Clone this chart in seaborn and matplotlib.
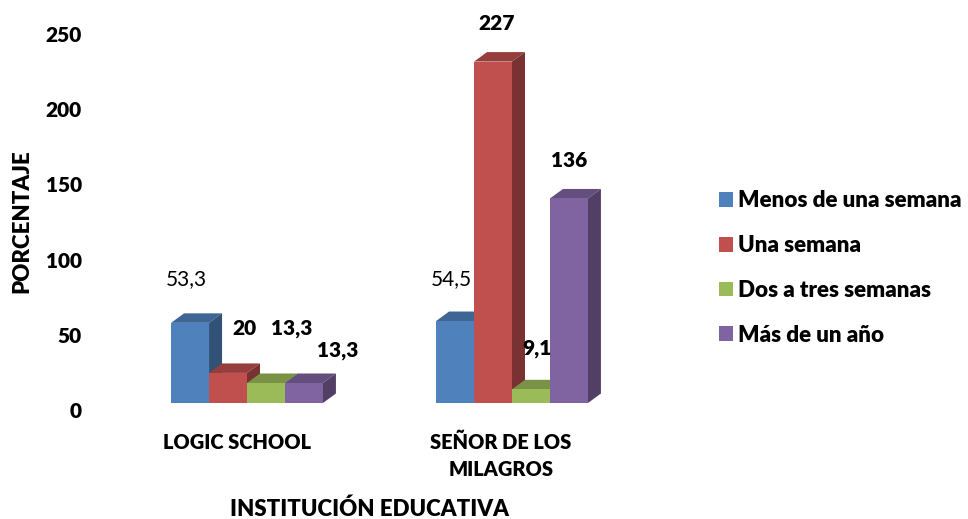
import pandas as pd
import seaborn as sns
from matplotlib import pyplot
from matplotlib.colors import to_rgb
from matplotlib.patches import Polygon
from matplotlib.transforms import ScaledTranslation

# data
institutions = ["LOGIC SCHOOL", "SEÑOR DE LOS\nMILAGROS"]
periods = ["Menos de una semana", "Una semana", "Dos a tres semanas", "Más de un año"]
menos_semana = [53.3, 54.5]
una_semana = [20, 227]
dos_tres_semanas = [13.3, 9.1]
mas_un_anio = [13.3, 136]
y_ticks = [0, 50, 100, 150, 200, 250]
colors = ["#4F81BD", "#C0504D", "#9BBB59", "#8064A2"]

# label offsets from the top centre of each bar, in pixels (one row per period)
label_offsets = [[(-4, 44), (-4, 42)], [(16, 44), (4, 38)], [(26, 54), (6, 41)], [(34, 32), (0, 38)]]

W, H, DPI = 968, 519, 100
AX_LEFT, AX_RIGHT, AX_TOP, AX_BOTTOM = 114.5, 644.5, 27, 403
DEPTH_X, DEPTH_Y = 13, 9.5
FONT = 15
LEG_FONT = 16.15
HEAVY = "heavy"

sns.set_theme(style="white")
pyplot.rcParams["font.family"] = ["Lato", "DejaVu Sans"]

rows = []
for period, values in zip(periods, [menos_semana, una_semana, dos_tres_semanas, mas_un_anio]):
    for inst, v in zip(institutions, values):
        rows.append({"institucion": inst, "periodo": period, "valor": v})
df = pd.DataFrame(rows)

fig = pyplot.figure(figsize=(W / DPI, H / DPI), dpi=DPI)
ax = fig.add_axes([AX_LEFT / W, 1 - AX_BOTTOM / H, (AX_RIGHT - AX_LEFT) / W, (AX_BOTTOM - AX_TOP) / H])

sns.barplot(data=df, x="institucion", y="valor", hue="periodo", hue_order=periods, order=institutions,
            palette=colors, saturation=1, width=0.573, gap=0, errorbar=None, linewidth=0, ax=ax)
ax.set_xlim(-0.5, 1.5)
ax.set_ylim(0, 250)

dx = DEPTH_X / (AX_RIGHT - AX_LEFT) * 2
dy = DEPTH_Y / (AX_BOTTOM - AX_TOP) * 250


def shade(color, k):
    return tuple(c * k for c in to_rgb(color))


# fake the 3d look, left to right so each bar hides the side of the one before
for i, container in enumerate(ax.containers):
    for j, bar in enumerate(container):
        z = 2 + i
        x0, x1, h = bar.get_x(), bar.get_x() + bar.get_width(), bar.get_height()
        bar.set_zorder(z + 0.5)
        bar.set_clip_on(False)
        ax.add_patch(Polygon([(x0, h), (x1, h), (x1 + dx, h + dy), (x0 + dx, h + dy)], closed=True,
                             fc=shade(colors[i], 0.78), ec="none", zorder=z, clip_on=False))
        ax.add_patch(Polygon([(x1, 0), (x1 + dx, dy), (x1 + dx, h + dy), (x1, h)], closed=True,
                             fc=shade(colors[i], 0.63), ec="none", zorder=z, clip_on=False))
        off = label_offsets[i][j]
        ax.annotate(f"{h:g}".replace(".", ","), xy=((x0 + x1) / 2, h),
                    xytext=(off[0] * 72 / DPI, off[1] * 72 / DPI), textcoords="offset points",
                    ha="center", va="center", fontsize=FONT, color="black",
                    fontweight="normal" if i == 0 else HEAVY, zorder=20, annotation_clip=False)

ax.set_yticks(y_ticks)
ax.set_yticklabels(y_ticks, fontsize=FONT, fontweight=HEAVY, color="black")
ax.tick_params(axis="y", length=0, pad=32.5 * 72 / DPI)
ax.tick_params(axis="x", length=0, pad=30 * 72 / DPI)
for lab in ax.get_yticklabels():
    lab.set_transform(lab.get_transform() + ScaledTranslation(0, -7 / DPI, fig.dpi_scale_trans))
ax.set_xticks([0, 1])
ax.set_xticklabels(institutions, fontsize=14.4, fontweight=HEAVY, color="black", linespacing=1.45)
for lab, shift in zip(ax.get_xticklabels(), [-10, -11]):
    lab.set_transform(lab.get_transform() + ScaledTranslation(shift / DPI, 0, fig.dpi_scale_trans))

ax.set_xlabel("INSTITUCIÓN EDUCATIVA", fontsize=16, fontweight=HEAVY, color="black", va="center")
ax.set_ylabel("PORCENTAJE", fontsize=16, fontweight=HEAVY, color="black", va="center")
ax.xaxis.set_label_coords((369 - AX_LEFT) / (AX_RIGHT - AX_LEFT), (AX_BOTTOM - 509.5) / (AX_BOTTOM - AX_TOP))
ax.yaxis.set_label_coords((22 - AX_LEFT) / (AX_RIGHT - AX_LEFT), (AX_BOTTOM - 221) / (AX_BOTTOM - AX_TOP))

sns.despine(ax=ax, left=True, bottom=True)

handles, labels = ax.get_legend_handles_labels()
fs_px = LEG_FONT * DPI / 72
ax.legend(handles, labels, loc="center left", bbox_to_anchor=(719 / W, 1 - 268 / H),
          bbox_transform=fig.transFigure, frameon=False, borderpad=0, borderaxespad=0,
          handlelength=14 / fs_px, handleheight=14 / fs_px, handletextpad=5 / fs_px,
          labelspacing=1.06, labelcolor="black", prop={"size": LEG_FONT, "weight": HEAVY})

pyplot.savefig("out.png", dpi=DPI)
